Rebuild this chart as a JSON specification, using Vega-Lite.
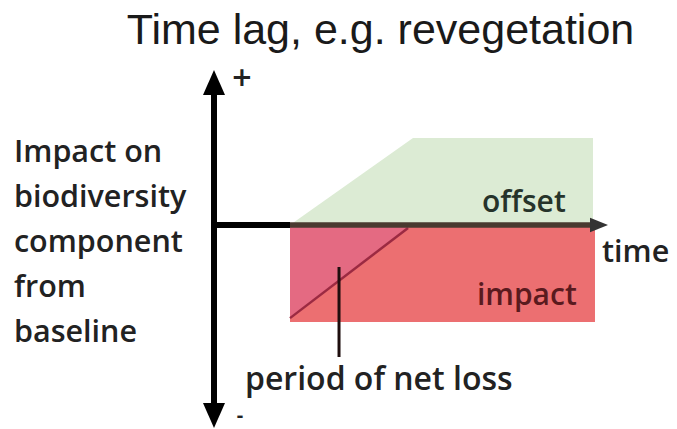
{
  "$schema": "https://vega.github.io/schema/vega-lite/v6.json",
  "width": 677,
  "height": 429,
  "autosize": "none",
  "padding": 0,
  "background": "white",
  "config": {"view": {"stroke": null}},
  "title": {"text": "Time lag, e.g. revegetation", "font": "Liberation Sans", "fontSize": 43, "fontWeight": "normal", "color": "#1a1a1a", "anchor": "middle", "dx": 42, "dy": 57},
  "encoding": {
    "x": {"field": "x", "type": "quantitative", "scale": {"domain": [-2.8158, 6.0921], "nice": false, "zero": false}, "axis": null},
    "y": {"field": "y", "type": "quantitative", "scale": {"domain": [-2.1031, 2.3196], "nice": false, "zero": false}, "axis": null}
  },
  "layer": [
    {
      "data": {"values": [{"x": 1, "y": 0}, {"x": 2.618, "y": 0.897}, {"x": 4.987, "y": 0.897}]},
      "mark": {"type": "area", "color": "#dcebd4", "opacity": 1},
      "encoding": {"y2": {"datum": 0}}
    },
    {
      "data": {"values": [{"x": 1, "x2": 5.013, "y": 0, "y2": -1}]},
      "mark": {"type": "rect", "color": "#ec6f71"},
      "encoding": {"x2": {"field": "x2"}, "y2": {"field": "y2"}}
    },
    {
      "data": {"values": [{"x": 1, "y": -0.02, "y2": -0.96}, {"x": 2.553, "y": -0.02, "y2": -0.031}]},
      "mark": {"type": "area", "color": "#e46a82"},
      "encoding": {"y2": {"field": "y2"}}
    },
    {
      "data": {"values": [{"x": 1, "y": -0.96, "x2": 2.553, "y2": -0.031}]},
      "mark": {"type": "rule", "color": "#9c2a42", "strokeWidth": 2.5},
      "encoding": {"x2": {"field": "x2"}, "y2": {"field": "y2"}}
    },
    {
      "data": {"values": [{"x": 1, "y": 0, "x2": 4.98, "y2": 0}]},
      "mark": {"type": "rule", "color": "#4a3a30", "strokeWidth": 5.5},
      "encoding": {"x2": {"field": "x2"}, "y2": {"field": "y2"}}
    },
    {
      "data": {"values": [{"x": 0, "y": 0, "x2": 1, "y2": 0}]},
      "mark": {"type": "rule", "color": "#000000", "strokeWidth": 6},
      "encoding": {"x2": {"field": "x2"}, "y2": {"field": "y2"}}
    },
    {
      "data": {"values": [{"x": 0, "y": 1.40, "x2": 0, "y2": -1.90}]},
      "mark": {"type": "rule", "color": "#000000", "strokeWidth": 6},
      "encoding": {"x2": {"field": "x2"}, "y2": {"field": "y2"}}
    },
    {
      "data": {"values": [{"x": 0, "y": 1.469}]},
      "mark": {"type": "point", "filled": true, "color": "#000000", "opacity": 1, "size": 484, "shape": "M0,-1.14L1,1.14L-1,1.14Z"}
    },
    {
      "data": {"values": [{"x": 0, "y": -1.964}]},
      "mark": {"type": "point", "filled": true, "color": "#000000", "opacity": 1, "size": 484, "shape": "M0,1.14L1,-1.14L-1,-1.14Z"}
    },
    {
      "data": {"values": [{"x": 5.066, "y": 0}]},
      "mark": {"type": "point", "filled": true, "color": "#333333", "opacity": 1, "size": 324, "shape": "M1,0L-1,-0.8L-1,0.8Z"}
    },
    {
      "data": {"values": [{"x": 1.645, "y": -0.433, "x2": 1.645, "y2": -1.361}]},
      "mark": {"type": "rule", "color": "#1e0e0e", "strokeWidth": 3},
      "encoding": {"x2": {"field": "x2"}, "y2": {"field": "y2"}}
    },
    {
      "data": {"values": [
        {"x": -2.632, "y": 0.649, "label": "Impact on"},
        {"x": -2.632, "y": 0.186, "label": "biodiversity"},
        {"x": -2.632, "y": -0.278, "label": "component"},
        {"x": -2.632, "y": -0.742, "label": "from"},
        {"x": -2.632, "y": -1.206, "label": "baseline"},
        {"x": 5.105, "y": -0.381, "label": "time"}
      ]},
      "mark": {"type": "text", "align": "left", "baseline": "alphabetic", "font": "Open Sans", "fontSize": 30.5, "fontWeight": 600, "color": "#222222"},
      "encoding": {"text": {"field": "label"}}
    },
    {
      "data": {"values": [{"x": 0.408, "y": -1.701, "label": "period of net loss"}]},
      "mark": {"type": "text", "align": "left", "baseline": "alphabetic", "font": "Open Sans", "fontSize": 32, "fontWeight": 600, "color": "#222222"},
      "encoding": {"text": {"field": "label"}}
    },
    {
      "data": {"values": [{"x": 3.526, "y": 0.134, "label": "offset"}]},
      "mark": {"type": "text", "align": "left", "baseline": "alphabetic", "font": "Open Sans", "fontSize": 30, "fontWeight": 600, "color": "#26332a"},
      "encoding": {"text": {"field": "label"}}
    },
    {
      "data": {"values": [{"x": 3.46, "y": -0.825, "label": "impact"}]},
      "mark": {"type": "text", "align": "left", "baseline": "alphabetic", "font": "Open Sans", "fontSize": 30, "fontWeight": 600, "color": "#5a1a1e"},
      "encoding": {"text": {"field": "label"}}
    },
    {
      "data": {"values": [{"x": 0.368, "y": 1.52, "label": "+"}]},
      "mark": {"type": "text", "align": "center", "baseline": "middle", "font": "DejaVu Sans", "fontSize": 26, "fontWeight": "bold", "color": "#222222"},
      "encoding": {"text": {"field": "label"}}
    },
    {
      "data": {"values": [{"x": 0.342, "y": -1.97, "label": "-"}]},
      "mark": {"type": "text", "align": "center", "baseline": "middle", "font": "Open Sans", "fontSize": 20, "fontWeight": 700, "color": "#222222"},
      "encoding": {"text": {"field": "label"}}
    }
  ]
}
